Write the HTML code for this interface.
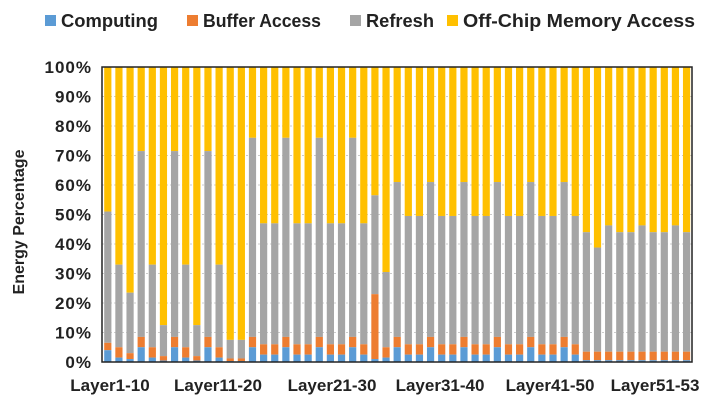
<!DOCTYPE html>
<html><head><meta charset="utf-8"><style>
body{margin:0;background:#fff;width:720px;height:415px;overflow:hidden}
svg{display:block}
text{font-family:"Liberation Sans",Arial,sans-serif;font-weight:bold;fill:#222}
</style></head><body>
<svg id="s" width="720" height="415" xmlns="http://www.w3.org/2000/svg">
<rect x="45" y="15" width="11" height="11" fill="#5B9BD5"/><text x="61" y="27" font-size="18" textLength="97" lengthAdjust="spacingAndGlyphs">Computing</text>
<rect x="187" y="15" width="11" height="11" fill="#ED7D31"/><text x="203" y="27" font-size="18" textLength="118" lengthAdjust="spacingAndGlyphs">Buffer Access</text>
<rect x="350" y="15" width="11" height="11" fill="#A5A5A5"/><text x="366" y="27" font-size="18" textLength="68" lengthAdjust="spacingAndGlyphs">Refresh</text>
<rect x="447" y="15" width="11" height="11" fill="#FFC000"/><text x="463" y="27" font-size="18" textLength="232" lengthAdjust="spacingAndGlyphs">Off-Chip Memory Access</text>
<g id="grid"></g>
<g id="bars"></g>
<rect x="102" y="67" width="590" height="295" fill="none" stroke="#222" stroke-width="1.5"/>
<g font-size="17" text-anchor="end" letter-spacing="1">
<text x="92" y="368">0%</text><text x="92" y="338.5">10%</text><text x="92" y="309">20%</text><text x="92" y="279.5">30%</text><text x="92" y="250">40%</text><text x="92" y="220.5">50%</text><text x="92" y="191">60%</text><text x="92" y="161.5">70%</text><text x="92" y="132">80%</text><text x="92" y="102.5">90%</text><text x="92" y="73">100%</text>
</g>
<text transform="translate(24,222) rotate(-90)" font-size="16" text-anchor="middle">Energy Percentage</text>
<g font-size="17" text-anchor="middle">
<text x="110" y="391">Layer1-10</text><text x="218" y="391">Layer11-20</text><text x="332" y="391">Layer21-30</text><text x="440" y="391">Layer31-40</text><text x="550" y="391">Layer41-50</text><text x="655" y="391">Layer51-53</text>
</g>
</svg>
<script>
var g=[51,33,23.5,71.5,33,12.5,71.5,33,12.5,71.5,33,7.5,7.5,76,47,47,76,47,47,76,47,47,76,47,56.5,30.5,61,49.5,49.5,61,49.5,49.5,61,49.5,49.5,61,49.5,49.5,61,49.5,49.5,61,49.5,44,38.8,46.3,44,44,46.3,44,44,46.3,44];
var NS="http://www.w3.org/2000/svg",B=document.getElementById("bars"),G=document.getElementById("grid");
function r(p,x,y,w,h,c){var e=document.createElementNS(NS,"rect");e.setAttribute("x",x);e.setAttribute("y",y);e.setAttribute("width",w);e.setAttribute("height",h);e.setAttribute("fill",c);p.appendChild(e);}
for(var i=1;i<10;i++){var l=document.createElementNS(NS,"line");var y=362-i*29.5;l.setAttribute("x1",102);l.setAttribute("x2",692);l.setAttribute("y1",y);l.setAttribute("y2",y);l.setAttribute("stroke","#ccc");l.setAttribute("stroke-dasharray","2,2");G.appendChild(l);}
var Y=function(p){return 362-p*2.95;};
for(var i=0;i<53;i++){
 var x=102+i*11.13+2.2,w=7.2,t=g[i],c,b;
 if(i>=43){c=0.6;b=3.5;}
 else if(t>=60){c=5;b=8.5;}
 else if(t<=8){c=0.3;b=1.2;}
 else if(t<=13){c=0.5;b=2;}
 else if(t<=24){c=1;b=3;}
 else if(t<=34){c=1.5;b=5;}
 else if(t>=50&&t<=52){c=4;b=6.5;}
 else {c=2.5;b=6;}
 if(i==24){c=1;b=23;}
 r(B,x,67,w,Y(t)-67,"#FFC000");
 r(B,x,Y(t),w,Y(b)-Y(t),"#A5A5A5");
 r(B,x,Y(b),w,Y(c)-Y(b),"#ED7D31");
 r(B,x,Y(c),w,362-Y(c),"#5B9BD5");
}
</script>
</body></html>
